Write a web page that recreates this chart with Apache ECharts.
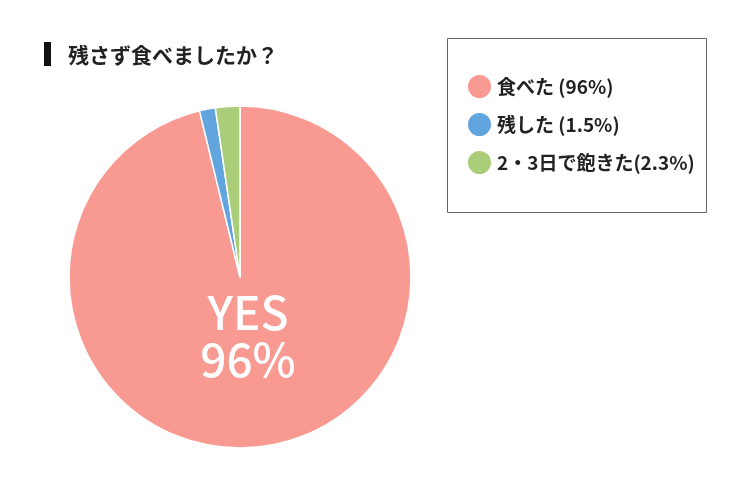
<!DOCTYPE html>
<html>
<head>
<meta charset="utf-8">
<script src="https://cdn.jsdelivr.net/npm/echarts@6/dist/echarts.min.js"></script>
<style>
  html, body { margin: 0; padding: 0; background: #fff; }
  #main { width: 746px; height: 500px; }
</style>
</head>
<body>
<div id="main"></div>
<script>
var categories = ['食べた (96%)', '残した (1.5%)', '2・3日で飽きた(2.3%)'];
var values = [96, 1.5, 2.3];
var colors = ['#F99A92', '#62A5DE', '#A9CD78'];
var centerLabel = 'YES\n96%';

var chartDom = document.getElementById('main');
var myChart = echarts.init(chartDom);
var jp = '"Noto Sans CJK JP", "Noto Sans", sans-serif';

var option = {
  animation: false,
  title: [
    {
      text: '残さず食べましたか？',
      left: 63,
      top: 40,
      textStyle: { fontFamily: jp, fontSize: 21, fontWeight: 'bold', color: '#222' }
    },
    {
      // big white label on the main slice
      text: centerLabel,
      left: 243,
      top: 284,
      textAlign: 'center',
      textStyle: { fontFamily: jp, fontSize: 46, fontWeight: 500, lineHeight: 47, color: '#fff' }
    }
  ],
  graphic: [
    { type: 'rect', shape: { x: 44, y: 42, width: 7, height: 24 }, style: { fill: '#111' } },
    { type: 'rect', shape: { x: 447.5, y: 38.5, width: 259, height: 174 },
      style: { fill: 'none', stroke: '#666', lineWidth: 1 } }
  ],
  legend: {
    orient: 'vertical',
    left: 466,
    top: 73,
    padding: 0,
    icon: 'circle',
    itemWidth: 25,
    itemHeight: 25,
    itemGap: 11,
    textStyle: { fontFamily: jp, fontSize: 19, fontWeight: 'bold', color: '#222' },
    data: categories
  },
  series: [
    {
      type: 'pie',
      center: [240, 277],
      radius: [0, 171],
      startAngle: 90,
      clockwise: true,
      label: { show: false },
      labelLine: { show: false },
      emphasis: { disabled: true },
      itemStyle: { borderColor: '#fff', borderWidth: 1.5 },
      data: categories.map(function (name, i) {
        return { name: name, value: values[i], itemStyle: { color: colors[i] } };
      })
    }
  ]
};

if (chartDom && myChart) {
  myChart.setOption(option);
} else {
  console.error('Failed to initialize the chart');
}
</script>
</body>
</html>
